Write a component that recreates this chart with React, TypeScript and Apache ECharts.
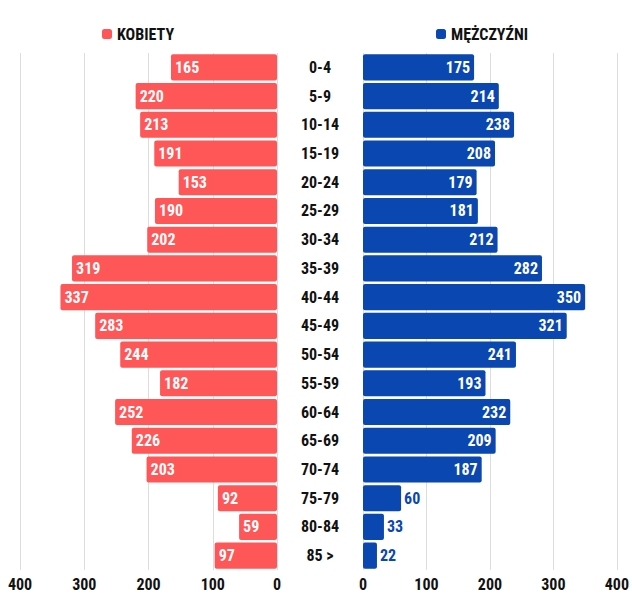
import React, { useEffect, useRef } from "react";
import * as echarts from "echarts";

const categories = ["0-4","5-9","10-14","15-19","20-24","25-29","30-34","35-39","40-44","45-49","50-54","55-59","60-64","65-69","70-74","75-79","80-84","85 >"];
const women = [165,220,213,191,153,190,202,319,337,283,244,182,252,226,203,92,59,97];
const men = [175,214,238,208,179,181,212,282,350,321,241,193,232,209,187,60,33,22];
const xTicks = [0,100,200,300,400];

const RED = "#FF5757";
const BLUE = "#0A47B0";
const FONT = "'Roboto Condensed', 'Liberation Sans Narrow', Roboto, sans-serif";

export default function App() {
  const ref = useRef<HTMLDivElement>(null);
  useEffect(() => {
    const chart = echarts.init(ref.current!, null, { renderer: "svg" });
    const labelBase = { fontFamily: FONT, fontWeight: "bold" as const, fontSize: 16 };
    chart.setOption({
      animation: false,
      textStyle: { fontFamily: FONT },
      legend: [
        { data: ["KOBIETY"], left: 97, top: 21, itemWidth: 10, itemHeight: 10, icon: "roundRect", itemGap: 10,
          textStyle: { ...labelBase, color: "#111", fontSize: 16 } },
        { data: ["MĘŻCZYŹNI"], left: 431, top: 21, itemWidth: 10, itemHeight: 10, icon: "roundRect", itemGap: 10,
          textStyle: { ...labelBase, color: "#111", fontSize: 16 } },
      ],
      grid: [
        { left: 20, right: 355, top: 53, bottom: 27, containLabel: false },
        { left: 363, right: 13, top: 53, bottom: 27, containLabel: false },
      ],
      xAxis: [
        { gridIndex: 0, type: "value", inverse: true, min: 0, max: 400, interval: 100,
          axisLine: { show: false }, axisTick: { show: false },
          splitLine: { lineStyle: { color: "#dddddd" } },
          axisLabel: { ...labelBase, color: "#111", fontSize: 16, margin: 6,
            formatter: (v: number) => (xTicks.includes(v) ? String(v) : "") } },
        { gridIndex: 1, type: "value", min: 0, max: 400, interval: 100,
          axisLine: { show: false }, axisTick: { show: false },
          splitLine: { lineStyle: { color: "#dddddd" } },
          axisLabel: { ...labelBase, color: "#111", fontSize: 16, margin: 6,
            formatter: (v: number) => (xTicks.includes(v) ? String(v) : "") } },
      ],
      yAxis: [
        { gridIndex: 0, type: "category", data: categories, inverse: true, position: "right",
          axisLine: { show: false }, axisTick: { show: false }, axisLabel: { show: false } },
        { gridIndex: 1, type: "category", data: categories, inverse: true, position: "left",
          axisLine: { show: false }, axisTick: { show: false },
          axisLabel: { ...labelBase, color: "#111", fontSize: 16, align: "center", margin: 43 } },
      ],
      series: [
        { name: "KOBIETY", type: "bar", xAxisIndex: 0, yAxisIndex: 0, data: women,
          barCategoryGap: "9%", itemStyle: { color: RED, borderRadius: 2 },
          label: { show: true, position: "insideLeft", distance: 4, color: "#fff", ...labelBase } },
        { name: "MĘŻCZYŹNI", type: "bar", xAxisIndex: 1, yAxisIndex: 1,
          data: men.map((v) => v < 100
            ? { value: v, label: { position: "right", color: BLUE, distance: 3 } }
            : { value: v }),
          barCategoryGap: "9%", itemStyle: { color: BLUE, borderRadius: 2 },
          label: { show: true, position: "insideRight", distance: 4, color: "#fff", ...labelBase } },
      ],
    });
    return () => chart.dispose();
  }, []);
  return <div ref={ref} style={{ position: "absolute", left: 0, top: 0, width: 632, height: 597 }} />;
}
